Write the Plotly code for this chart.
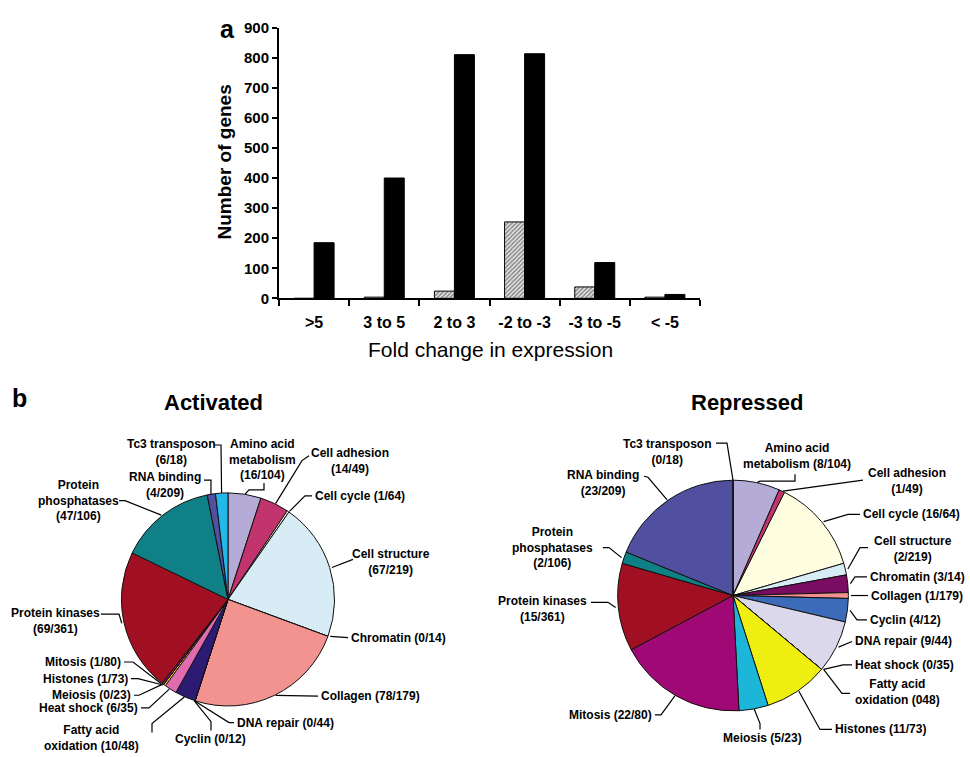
import math
import plotly.graph_objects as go

# ---------------------------------------------------------------- data
FOLD_BINS = [">5", "3 to 5", "2 to 3", "-2 to -3", "-3 to -5", "< -5"]
GENES_HATCHED = [0, 4, 24, 254, 38, 4]
GENES_SOLID = [185, 400, 810, 813, 119, 13]

CATEGORIES = [
    "Amino acid metabolism", "Cell adhesion", "Cell cycle", "Cell structure",
    "Chromatin", "Collagen", "Cyclin", "DNA repair", "Fatty acid oxidation",
    "Heat shock", "Histones", "Meiosis", "Mitosis", "Protein kinases",
    "Protein phosphatases", "RNA binding", "Tc3 transposon",
]
CATEGORY_TOTALS = [104, 49, 64, 219, 14, 179, 12, 44, 48, 35, 73, 23, 80, 361, 106, 209, 18]
ACTIVATED = [16, 14, 1, 67, 0, 78, 0, 0, 10, 6, 1, 0, 1, 69, 47, 4, 6]
REPRESSED = [8, 1, 16, 2, 3, 1, 4, 9, 0, 0, 11, 5, 22, 15, 2, 23, 0]

CATEGORY_COLORS = [
    "#B5ABD7", "#C2346E", "#FFFDE0", "#D7ECF5", "#7A0C62", "#F39390",
    "#3B6BB9", "#DCD8EC", "#2D1A72", "#E06BAE", "#EEEE10", "#1CB6D8",
    "#A00875", "#A10F22", "#0F8085", "#5150A0", "#22B8EA",
]

# ---------------------------------------------------------------- layout helpers
W, H = 970, 757
FONT = "Liberation Sans, Arial, Helvetica, sans-serif"


def px(x):
    return x / W


def py(y):
    return 1 - y / H


# pie geometry in page pixels: centre and radius
ACT_PIE = dict(cx=228, cy=604, r=109)
REP_PIE = dict(cx=733, cy=600, r=118)


def mid_angles(values):
    """Clockwise angle (deg from 12 o'clock) at the middle of each slice."""
    total = float(sum(values))
    out, acc = [], 0.0
    for v in values:
        out.append((acc + v / 2.0) / total * 360.0)
        acc += v
    return out


def rim_point(pie, angle_deg, frac=1.0):
    a = math.radians(angle_deg)
    return (pie["cx"] + frac * pie["r"] * math.sin(a),
            pie["cy"] - frac * pie["r"] * math.cos(a))


def pie_domain(pie):
    return dict(x=[px(pie["cx"] - pie["r"]), px(pie["cx"] + pie["r"])],
                y=[py(pie["cy"] + pie["r"]), py(pie["cy"] - pie["r"])])


# label placement: category, text template, text x, text y, anchor, leader route
ACT_LABELS = [
    ("Amino acid metabolism", "Amino acid<br>metabolism<br>({n}/{t})", 262, 461, "center", [(264, 485), (264, 492), (249, 492)]),
    ("Cell adhesion", "Cell adhesion<br>({n}/{t})", 350, 462, "center", [(309, 457), (302, 462)]),
    ("Cell cycle", "Cell cycle ({n}/{t})", 312, 498, "left", [(312, 498), (305, 498)]),
    ("Cell structure", "Cell structure<br>({n}/{t})", 391, 566, "center", [(353, 563)]),
    ("Chromatin", "Chromatin ({n}/{t})", 348, 643, "left", [(348, 643)]),
    ("Collagen", "Collagen ({n}/{t})", 318, 703, "left", [(318, 703)]),
    ("DNA repair", "DNA repair ({n}/{t})", 234, 730, "left", [(234, 730), (229, 730)]),
    ("Cyclin", "Cyclin ({n}/{t})", 210, 747, "center", [(211, 738), (211, 729)]),
    ("Fatty acid oxidation", "Fatty acid<br>oxidation ({n}/{t})", 91, 746, "center", [(152, 740), (152, 731)]),
    ("Heat shock", "Heat shock ({n}/{t})", 141, 715, "right", [(141, 715), (149, 715)]),
    ("Meiosis", "Meiosis ({n}/{t})", 134, 702, "right", [(134, 702), (139, 702)]),
    ("Histones", "Histones ({n}/{t})", 131, 685, "right", [(131, 685), (138, 685)]),
    ("Mitosis", "Mitosis ({n}/{t})", 124, 668, "right", [(124, 668), (133, 668)]),
    ("Protein kinases", "Protein kinases<br>({n}/{t})", 55, 626, "center", [(101, 619), (119, 619)]),
    ("Protein phosphatases", "Protein<br>phosphatases<br>({n}/{t})", 78, 503, "center", [(119, 503), (125, 503)]),
    ("RNA binding", "RNA binding<br>({n}/{t})", 165, 487, "center", [(204, 482), (211, 482)]),
    ("Tc3 transposon", "Tc3 transposon<br>({n}/{t})", 171, 453, "center", [(214, 446), (221, 446)]),
]

REP_LABELS = [
    ("Tc3 transposon", "Tc3 transposon<br>({n}/{t})", 667, 453, "center", [(716, 444), (727, 444)]),
    ("Amino acid metabolism", "Amino acid<br>metabolism ({n}/{t})", 797, 457, "center", [(795, 476), (795, 483), (760, 483)]),
    ("Cell adhesion", "Cell adhesion<br>({n}/{t})", 907, 483, "center", [(863, 482)]),
    ("Cell cycle", "Cell cycle ({n}/{t})", 860, 517, "left", [(860, 517), (848, 517)]),
    ("Cell structure", "Cell structure<br>({n}/{t})", 913, 552, "center", [(868, 551), (860, 551)]),
    ("Chromatin", "Chromatin ({n}/{t})", 867, 581, "left", [(867, 581), (855, 581)]),
    ("Collagen", "Collagen ({n}/{t})", 868, 600, "left", [(868, 600)]),
    ("Cyclin", "Cyclin ({n}/{t})", 867, 625, "left", [(867, 625), (857, 625)]),
    ("DNA repair", "DNA repair ({n}/{t})", 852, 647, "left", [(852, 647)]),
    ("Heat shock", "Heat shock ({n}/{t})", 852, 671, "left", [(852, 671), (843, 671)]),
    ("Fatty acid oxidation", "Fatty acid<br>oxidation ({n}{t})", 897, 699, "center", [(850, 700), (842, 700)]),
    ("Histones", "Histones ({n}/{t})", 832, 737, "left", [(832, 737), (820, 737)]),
    ("Meiosis", "Meiosis ({n}/{t})", 762, 746, "center", [(760, 737), (760, 731)]),
    ("Mitosis", "Mitosis ({n}/{t})", 655, 722, "right", [(655, 722), (661, 722)]),
    ("Protein kinases", "Protein kinases<br>({n}/{t})", 542, 614, "center", [(591, 607), (608, 607)]),
    ("Protein phosphatases", "Protein<br>phosphatases<br>({n}/{t})", 552, 551, "center", [(603, 551), (609, 551)]),
    ("RNA binding", "RNA binding<br>({n}/{t})", 603, 485, "center", [(644, 478), (648, 479)]),
]

# ---------------------------------------------------------------- figure
fig = go.Figure()

# panel a: grouped bars (hatched series drawn first so it sits on the left)
fig.add_trace(go.Bar(
    x=FOLD_BINS, y=GENES_HATCHED, xaxis="x", yaxis="y",
    marker=dict(color="white", line=dict(color="black", width=1),
                pattern=dict(shape="/", fgcolor="#2a2a2a", bgcolor="#f4f4f4",
                             size=3, solidity=0.6)),
    hoverinfo="skip",
))
fig.add_trace(go.Bar(
    x=FOLD_BINS, y=GENES_SOLID, xaxis="x", yaxis="y",
    marker=dict(color="black", line=dict(color="black", width=1)),
    hoverinfo="skip",
))

# panel b: pies
for values, pie in ((ACTIVATED, ACT_PIE), (REPRESSED, REP_PIE)):
    fig.add_trace(go.Pie(
        labels=CATEGORIES, values=values, sort=False, direction="clockwise",
        rotation=0, textinfo="none", hoverinfo="skip",
        marker=dict(colors=CATEGORY_COLORS, line=dict(color="#111111", width=1)),
        domain=pie_domain(pie),
    ))

annotations = []
shapes = []


def text_note(x, y, text, size, bold=True, xanchor="center", angle=0):
    annotations.append(dict(
        x=px(x), y=py(y), xref="paper", yref="paper", text=text,
        showarrow=False, xanchor=xanchor, yanchor="middle", textangle=angle,
        align="center",
        font=dict(family=FONT, size=size, color="black",
                  weight="bold" if bold else "normal"),
    ))


def add_pie_labels(labels, values, pie):
    angles = dict(zip(CATEGORIES, mid_angles(values)))
    counts = dict(zip(CATEGORIES, values))
    totals = dict(zip(CATEGORIES, CATEGORY_TOTALS))
    for name, tmpl, x, y, anchor, route in labels:
        text = tmpl.format(n=counts[name], t=totals[name])
        tx = x + (1 if anchor == "left" else -1 if anchor == "right" else 0)
        text_note(tx, y, text, 12, True, anchor)
        end = rim_point(pie, angles[name])
        pts = list(route) + [end]
        path = "M " + " L ".join(f"{px(a):.5f},{py(b):.5f}" for a, b in pts)
        shapes.append(dict(type="path", path=path, xref="paper", yref="paper",
                           line=dict(color="black", width=1.2), layer="above"))


add_pie_labels(ACT_LABELS, ACTIVATED, ACT_PIE)
add_pie_labels(REP_LABELS, REPRESSED, REP_PIE)

# panel letters, titles and axis titles
text_note(227, 20, "a", 25)
text_note(19, 398, "b", 25)
text_note(213, 403, "Activated", 22)
text_note(747, 403, "Repressed", 22)
text_note(224, 157, "Number of genes", 19, True, angle=-90)
text_note(490, 348, "Fold change in expression", 21, False)

fig.update_layout(
    width=W, height=H, margin=dict(l=0, r=0, t=0, b=0),
    paper_bgcolor="white", plot_bgcolor="white", showlegend=False,
    barmode="group", bargap=0.43, bargroupgap=0,
    font=dict(family=FONT, color="black"),
    xaxis=dict(domain=[px(279), px(700)], anchor="y", type="category",
               range=[-0.5, 5.5], tickson="boundaries", ticks="outside",
               ticklen=6, tickwidth=2, tickcolor="black", showline=True,
               linecolor="black", linewidth=2, showgrid=False,
               ticklabelstandoff=8,
               tickfont=dict(family=FONT, size=16, weight="bold")),
    yaxis=dict(domain=[py(296), py(19)], anchor="x", range=[0, 900],
               dtick=100, ticks="outside", ticklen=5, tickwidth=2,
               tickcolor="black", showline=True, linecolor="black",
               linewidth=2, showgrid=False, zeroline=False,
               tickfont=dict(family=FONT, size=15, weight="bold")),
    annotations=annotations, shapes=shapes,
)

fig.write_html("out.html")
